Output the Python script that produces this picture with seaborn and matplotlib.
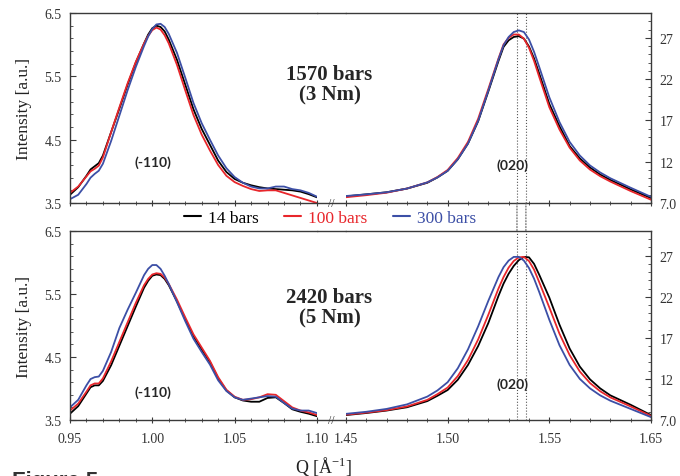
import matplotlib
matplotlib.use('Agg')
import matplotlib.pyplot as plt
from matplotlib.lines import Line2D
from matplotlib.patches import ConnectionPatch
from matplotlib.ticker import MultipleLocator
import numpy as np
import pandas as pd
import seaborn as sns

# series
series_labels = ['14 bars', '100 bars', '300 bars']
series_colors = ['#000000', '#e8262b', '#3c4fa6']

# Q grid of the (-110) window
q_110 = [0.950, 0.955, 0.960, 0.9625, 0.965, 0.9675, 0.970, 0.975, 0.980, 0.985,
         0.990, 0.995, 0.9975, 1.000, 1.0025, 1.005, 1.0075, 1.010, 1.015, 1.020,
         1.025, 1.030, 1.035, 1.040, 1.045, 1.050, 1.055, 1.060, 1.065, 1.070,
         1.075, 1.080, 1.085, 1.090, 1.095, 1.100]

# Q grid of the (020) window
q_020 = [1.450, 1.460, 1.470, 1.480, 1.490, 1.495, 1.500, 1.505, 1.510, 1.515,
         1.520, 1.525, 1.5275, 1.530, 1.5325, 1.535, 1.5375, 1.540, 1.5425, 1.545,
         1.550, 1.555, 1.560, 1.565, 1.570, 1.575, 1.580, 1.590, 1.600]

# 1570 bars (3 Nm), (-110) peak, left axis
top_110_14 = [3.63, 3.75, 3.93, 4.03, 4.08, 4.13, 4.25, 4.62, 4.99, 5.37,
              5.72, 6.02, 6.16, 6.26, 6.30, 6.28, 6.21, 6.08, 5.76, 5.37,
              4.98, 4.67, 4.42, 4.17, 3.99, 3.88, 3.82, 3.78, 3.75, 3.73,
              3.72, 3.71, 3.70, 3.68, 3.64, 3.59]
top_110_100 = [3.66, 3.76, 3.92, 4.00, 4.04, 4.09, 4.22, 4.62, 5.01, 5.39,
               5.73, 6.02, 6.14, 6.23, 6.27, 6.24, 6.15, 6.02, 5.68, 5.28,
               4.89, 4.58, 4.33, 4.10, 3.93, 3.83, 3.77, 3.72, 3.69, 3.70,
               3.70, 3.66, 3.62, 3.58, 3.54, 3.50]
top_110_300 = [3.56, 3.63, 3.80, 3.90, 3.96, 4.01, 4.12, 4.48, 4.88, 5.28,
               5.65, 5.98, 6.13, 6.25, 6.32, 6.33, 6.28, 6.17, 5.87, 5.48,
               5.08, 4.76, 4.50, 4.25, 4.05, 3.91, 3.82, 3.76, 3.73, 3.73,
               3.76, 3.76, 3.72, 3.70, 3.66, 3.60]

# 1570 bars (3 Nm), (020) peak, right axis
top_020_14 = [7.80, 8.05, 8.30, 8.75, 9.45, 10.10, 10.90, 12.30, 14.20, 16.90,
              20.50, 24.20, 25.90, 26.70, 27.10, 27.20, 26.90, 25.95, 24.50, 22.70,
              19.00, 16.30, 13.90, 12.40, 11.30, 10.45, 9.80, 8.65, 7.60]
top_020_100 = [7.70, 7.95, 8.25, 8.75, 9.50, 10.15, 11.00, 12.45, 14.40, 17.20,
               20.80, 24.50, 26.20, 27.00, 27.40, 27.40, 26.90, 25.80, 24.20, 22.30,
               18.60, 15.90, 13.70, 12.15, 11.05, 10.25, 9.60, 8.45, 7.40]
top_020_300 = [7.85, 8.05, 8.30, 8.75, 9.50, 10.10, 10.90, 12.30, 14.20, 16.95,
               20.60, 24.40, 26.10, 27.10, 27.70, 27.90, 27.70, 26.80, 25.30, 23.50,
               19.80, 16.80, 14.40, 12.75, 11.55, 10.70, 10.00, 8.85, 7.75]

# 2420 bars (5 Nm), (-110) peak, left axis
bot_110_14 = [3.60, 3.72, 3.92, 4.02, 4.05, 4.05, 4.12, 4.37, 4.68, 4.99,
              5.30, 5.60, 5.71, 5.79, 5.81, 5.80, 5.74, 5.64, 5.38, 5.10,
              4.83, 4.62, 4.42, 4.16, 3.97, 3.86, 3.81, 3.79, 3.79, 3.85,
              3.86, 3.77, 3.67, 3.63, 3.60, 3.56]
bot_110_100 = [3.65, 3.76, 3.95, 4.05, 4.08, 4.08, 4.16, 4.43, 4.74, 5.05,
               5.36, 5.64, 5.74, 5.81, 5.83, 5.82, 5.76, 5.66, 5.41, 5.13,
               4.86, 4.65, 4.44, 4.18, 3.98, 3.87, 3.82, 3.83, 3.86, 3.91,
               3.90, 3.80, 3.70, 3.65, 3.62, 3.58]
bot_110_300 = [3.70, 3.82, 4.05, 4.15, 4.18, 4.19, 4.28, 4.58, 4.96, 5.25,
               5.52, 5.80, 5.90, 5.96, 5.96, 5.90, 5.79, 5.66, 5.37, 5.07,
               4.79, 4.58, 4.38, 4.13, 3.96, 3.86, 3.82, 3.84, 3.86, 3.88,
               3.87, 3.77, 3.68, 3.65, 3.65, 3.61]

# 2420 bars (5 Nm), (020) peak, right axis
bot_020_14 = [7.60, 7.85, 8.15, 8.55, 9.30, 9.95, 10.65, 11.90, 13.70, 16.00,
              18.80, 22.10, 23.60, 24.80, 25.75, 26.45, 26.85, 26.80, 26.00, 24.70,
              21.90, 18.60, 15.70, 13.50, 11.95, 10.85, 10.00, 8.85, 7.60]
bot_020_100 = [7.65, 7.90, 8.20, 8.65, 9.45, 10.15, 10.95, 12.35, 14.30, 16.80,
               19.80, 23.00, 24.40, 25.55, 26.35, 26.80, 26.85, 26.35, 25.30, 23.80,
               20.70, 17.50, 14.90, 12.90, 11.50, 10.50, 9.75, 8.65, 7.50]
bot_020_300 = [7.75, 8.00, 8.35, 8.90, 9.85, 10.60, 11.60, 13.30, 15.60, 18.40,
               21.50, 24.40, 25.60, 26.40, 26.85, 26.85, 26.40, 25.50, 24.20, 22.60,
               19.20, 16.10, 13.70, 12.00, 10.85, 10.00, 9.35, 8.35, 7.35]

# reference peak positions (dotted lines)
ref_q_020 = [1.5341, 1.5385]

# axis ticks / labels
left_yticks = [3.5, 4.5, 5.5, 6.5]
right_yticks = [7, 12, 17, 22, 27]
right_yticklabels = ['7.0', '12', '17', '22', '27']
left_xticks = [0.95, 1.00, 1.05, 1.10]
right_xticks = [1.45, 1.50, 1.55, 1.60]
right_xticklabels = ['1.45', '1.50', '1.55', '1.65']

row_titles = ['1570 bars\n(3 Nm)', '2420 bars\n(5 Nm)']


def long_frame(q, curves):
    parts = [pd.DataFrame({'Q': q, 'I': vals, 'series': lab})
             for lab, vals in zip(series_labels, curves)]
    return pd.concat(parts, ignore_index=True)


sns.set_style('ticks')
plt.rcParams['font.family'] = ['Liberation Serif', 'DejaVu Serif']
plt.rcParams['mathtext.fontset'] = 'custom'
plt.rcParams['mathtext.rm'] = 'Liberation Serif'
plt.rcParams['mathtext.default'] = 'regular'

spine_c = '#3a3a3a'
dot_c = '#555555'
palette = dict(zip(series_labels, series_colors))

fig = plt.figure(figsize=(6.8, 4.77), dpi=100)

rows = [
    dict(y0=0.5723, h=0.3983, left=[top_110_14, top_110_100, top_110_300],
         right=[top_020_14, top_020_100, top_020_300], lab110=4.16, lab020=11.7,
         title_y=0.822, xlabels=False),
    dict(y0=0.1174, h=0.3962, left=[bot_110_14, bot_110_100, bot_110_300],
         right=[bot_020_14, bot_020_100, bot_020_300], lab110=3.95, lab020=11.4,
         title_y=0.354, xlabels=True),
]

xl0, wl = 0.1029, 0.3632
xr0, wr = 0.5088, 0.4485

right_axes = []
for k, row in enumerate(rows):
    axL = fig.add_axes([xl0, row['y0'], wl, row['h']])
    axR = fig.add_axes([xr0, row['y0'], wr, row['h']])
    right_axes.append(axR)

    sns.lineplot(data=long_frame(q_110, row['left']), x='Q', y='I', hue='series',
                 palette=palette, estimator=None, legend=False, lw=1.3, ax=axL)
    sns.lineplot(data=long_frame(q_020, row['right']), x='Q', y='I', hue='series',
                 palette=palette, estimator=None, legend=False, lw=1.3, ax=axR)

    # left window
    axL.set_xlim(0.95, 1.10)
    axL.set_ylim(3.5, 6.5)
    axL.set_xticks(left_xticks)
    axL.xaxis.set_minor_locator(MultipleLocator(0.01))
    axL.set_yticks(left_yticks)
    axL.set_yticklabels([f'{v:.1f}' for v in left_yticks])
    axL.yaxis.set_minor_locator(MultipleLocator(0.2, offset=0.1))
    axL.spines['right'].set_visible(False)
    axL.set_ylabel('Intensity [a.u.]', fontsize=12.5, labelpad=9, color='#222')
    axL.set_xlabel('')

    # right window
    axR.set_xlim(1.45, 1.60)
    axR.set_ylim(7, 30)
    axR.set_xticks(right_xticks)
    axR.set_xticklabels(right_xticklabels)
    axR.xaxis.set_minor_locator(MultipleLocator(0.01))
    axR.yaxis.tick_right()
    axR.set_yticks(right_yticks)
    axR.set_yticklabels(right_yticklabels)
    axR.yaxis.set_minor_locator(MultipleLocator(1))
    axR.spines['left'].set_visible(False)
    axR.set_xlabel('')
    axR.set_ylabel('')

    for ax in (axL, axR):
        for s in ax.spines.values():
            s.set_color(spine_c)
            s.set_linewidth(1.0)
        ax.tick_params(axis='y', which='major', direction='in', length=4, width=0.8,
                       color=spine_c, labelsize=10, labelcolor='#333', pad=6)
        ax.tick_params(axis='y', which='minor', direction='in', length=2.5, width=0.6,
                       color=spine_c)
        ax.tick_params(axis='x', which='major', direction='inout', length=5, width=0.8,
                       color=spine_c, labelsize=10, labelcolor='#333', pad=6,
                       labelbottom=row['xlabels'])
        ax.tick_params(axis='x', which='minor', direction='inout', length=3, width=0.6,
                       color=spine_c)
        ax.set_facecolor('none')

    for q in ref_q_020:
        axR.axvline(q, color=dot_c, ls=':', lw=0.8, zorder=0)

    axL.text(1.0006, row['lab110'], '(-110)', ha='center', va='center',
             family='Lato', fontweight='bold', fontsize=10)
    axR.text(1.5321, row['lab020'], '(020)', ha='center', va='center',
             family='Lato', fontweight='bold', fontsize=10)

    # frame across the axis break
    gx = [xl0 + wl, xr0]
    for yy in (row['y0'], row['y0'] + row['h']):
        fig.add_artist(Line2D(gx, [yy, yy], color=spine_c, lw=1.0))
    fig.text(sum(gx) / 2, row['y0'], '//', ha='center', va='center', fontsize=8.5,
             color='#333')

    fig.text(0.4846, row['title_y'], row_titles[k], ha='center', va='center',
             fontsize=15, fontweight='bold', linespacing=1.05)

# dotted reference lines continue through the gap between the rows
for q in ref_q_020:
    con = ConnectionPatch(xyA=(q, 7), coordsA=right_axes[0].transData,
                          xyB=(q, 30), coordsB=right_axes[1].transData,
                          color=dot_c, ls=':', lw=0.8)
    fig.add_artist(con)

handles = [Line2D([], [], color=c, lw=1.5) for c in series_colors]
fig.legend(handles, series_labels, loc='center', bbox_to_anchor=(0.485, 0.541),
           ncol=3, frameon=False, handlelength=1.0, handletextpad=0.4,
           columnspacing=1.45, labelcolor=series_colors, fontsize=12.5)

fig.text(0.476, 0.021, 'Q [Å$^{-1}$]', ha='center', va='center', fontsize=13,
         color='#222')
fig.text(0.018, -0.022, 'Figure 5', ha='left', va='baseline', fontsize=16,
         fontweight='bold', family='Liberation Sans', color='#333')

fig.savefig('out.png', dpi=100)
